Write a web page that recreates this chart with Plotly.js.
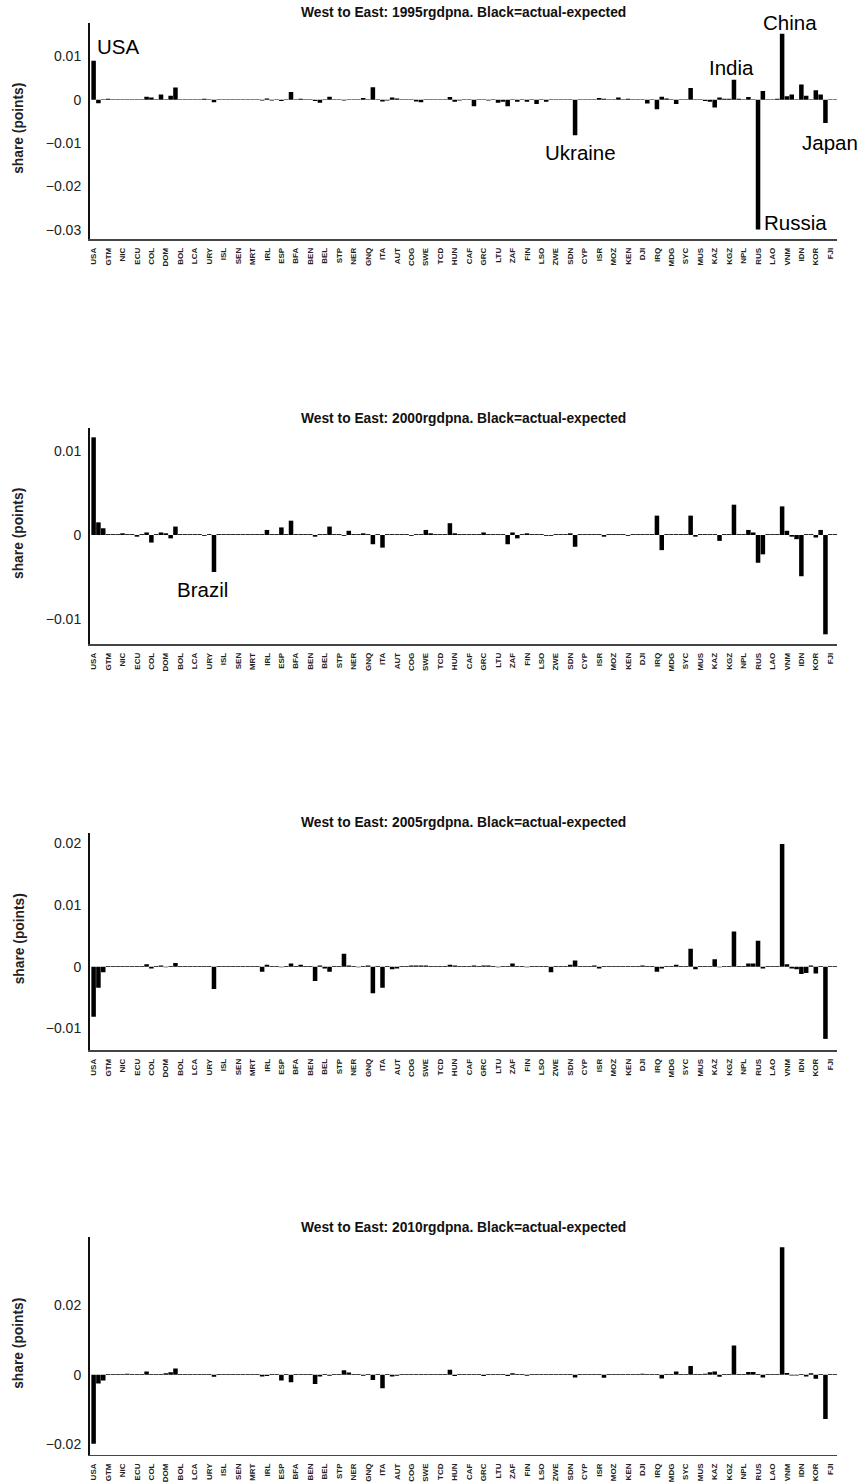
<!DOCTYPE html>
<html>
<head>
<meta charset="utf-8">
<script src="https://cdn.plot.ly/plotly-3.0.1.min.js"></script>
<style>html,body{margin:0;padding:0;background:#fff;}#chart{width:859px;height:1483px;}</style>
</head>
<body>
<div id="chart"></div>
<script>
// Tick labels: one label every third bar (West to East ordering)
var tickLabels = ["USA","GTM","NIC","ECU","COL","DOM","BOL","LCA","URY","ISL","SEN","MRT","IRL","ESP","BFA","BEN","BEL","STP","NER","GNQ","ITA","AUT","COG","SWE","TCD","HUN","CAF","GRC","LTU","ZAF","FIN","LSO","ZWE","SDN","CYP","ISR","MOZ","KEN","DJI","IRQ","MDG","SYC","MUS","KAZ","KGZ","NPL","RUS","LAO","VNM","IDN","KOR","FJI"];
var years = ["1995","2000","2005","2010"];

// actual - expected share, one value per country bar (3 bars per tick label group)
var v1995 = [
 0.0090,-0.0008,0.0001,
 0.0002,0.0001,0.0001,
 0.0001,0.0001,0.0001,
 0.0001,0.0001,0.0007,
 0.0005,0.0001,0.0012,
 0.0001,0.0009,0.0028,
 0.0001,0.0001,0.0001,
 0.0001,0.0001,0.0002,
 0.0001,-0.0006,0.0001,
 0.0001,0.0001,0.0001,
 0.0001,0.0001,0.0001,
 0.0001,0.0001,-0.0002,
 0.0003,-0.0002,0.0001,
 -0.0003,0.0001,0.0018,
 0.0001,0.0002,0.0001,
 0.0001,-0.0003,-0.0007,
 0.0001,0.0007,0.0001,
 0.0001,-0.0002,0.0001,
 0.0001,0.0001,0.0004,
 0.0001,0.0029,0.0001,
 -0.0004,-0.0002,0.0005,
 0.0003,0.0001,0.0001,
 0.0001,-0.0004,-0.0006,
 0.0001,0.0001,0.0001,
 0.0001,0.0001,0.0006,
 -0.0005,-0.0002,0.0001,
 0.0001,-0.0015,0.0001,
 0.0001,-0.0002,0.0001,
 -0.0007,-0.0005,-0.0015,
 0.0001,-0.0005,0.0001,
 -0.0005,0.0001,-0.0010,
 0.0001,-0.0005,0.0001,
 0.0001,0.0001,0.0001,
 0.0001,-0.0082,0.0001,
 0.0001,0.0001,0.0001,
 0.0004,0.0002,0.0001,
 0.0001,0.0005,0.0001,
 0.0002,0.0001,0.0001,
 0.0001,-0.0009,0.0001,
 -0.0022,0.0007,0.0003,
 0.0001,-0.0010,0.0001,
 0.0001,0.0027,0.0001,
 0.0001,-0.0003,-0.0005,
 -0.0018,0.0005,0.0002,
 0.0002,0.0046,0.0002,
 0.0001,0.0006,0.0001,
 -0.0300,0.0020,0.0001,
 0.0001,0.0002,0.0152,
 0.0008,0.0012,0.0001,
 0.0035,0.0009,0.0001,
 0.0022,0.0012,-0.0054,
 0.0001,0.0001
];
var v2000 = [
 0.0116,0.0015,0.0008,
 0.0001,0.0001,0.0001,
 0.0002,0.0001,0.0001,
 -0.0002,0.0001,0.0003,
 -0.0009,0.0001,0.0003,
 0.0002,-0.0004,0.0010,
 0.0001,0.0001,0.0001,
 0.0001,0.0001,-0.0001,
 0.0001,-0.0044,0.0001,
 0.0001,0.0001,0.0001,
 0.0001,0.0001,0.0001,
 0.0001,0.0001,0.0001,
 0.0006,0.0001,0.0001,
 0.0009,0.0001,0.0017,
 0.0001,0.0001,0.0001,
 0.0001,-0.0002,0.0001,
 0.0001,0.0010,0.0001,
 0.0001,-0.0001,0.0005,
 0.0001,0.0001,0.0002,
 0.0001,-0.0011,0.0001,
 -0.0015,0.0001,0.0001,
 0.0001,0.0001,0.0001,
 -0.0001,0.0001,0.0001,
 0.0006,0.0002,0.0001,
 0.0001,0.0001,0.0014,
 0.0002,0.0001,0.0001,
 0.0001,0.0001,0.0001,
 0.0003,0.0001,0.0001,
 0.0001,0.0001,-0.0011,
 0.0003,-0.0004,0.0001,
 0.0002,0.0001,0.0001,
 0.0001,-0.0001,-0.0001,
 0.0001,0.0001,0.0001,
 0.0002,-0.0014,0.0001,
 0.0001,0.0001,0.0001,
 0.0001,-0.0002,0.0001,
 0.0001,0.0001,0.0001,
 -0.0001,0.0001,0.0001,
 0.0001,0.0001,0.0001,
 0.0023,-0.0018,0.0001,
 0.0001,0.0001,0.0001,
 0.0001,0.0023,-0.0002,
 0.0001,0.0001,0.0001,
 0.0001,-0.0007,0.0001,
 0.0001,0.0036,0.0001,
 0.0001,0.0006,0.0003,
 -0.0033,-0.0023,0.0001,
 0.0001,0.0001,0.0034,
 0.0005,-0.0002,-0.0005,
 -0.0049,0.0001,0.0001,
 -0.0003,0.0006,-0.0118,
 0.0001,0.0001
];
var v2005 = [
 -0.0081,-0.0034,-0.0009,
 0.0001,0.0001,0.0001,
 0.0001,0.0001,0.0001,
 0.0001,0.0001,0.0004,
 -0.0003,0.0001,0.0002,
 -0.0001,0.0001,0.0006,
 0.0001,0.0001,0.0001,
 0.0001,0.0001,0.0001,
 0.0001,-0.0036,0.0001,
 0.0001,0.0001,0.0001,
 0.0001,0.0001,0.0001,
 0.0001,0.0001,-0.0008,
 0.0003,0.0001,0.0001,
 -0.0001,0.0001,0.0005,
 0.0001,0.0003,0.0001,
 0.0001,-0.0023,0.0002,
 -0.0003,-0.0008,0.0001,
 0.0001,0.0021,0.0002,
 0.0001,-0.0001,0.0001,
 0.0002,-0.0043,0.0001,
 -0.0034,0.0001,-0.0004,
 -0.0003,0.0001,0.0001,
 0.0002,0.0002,0.0002,
 0.0002,0.0001,0.0001,
 0.0001,0.0001,0.0003,
 0.0002,0.0001,0.0001,
 0.0001,0.0002,0.0001,
 0.0002,0.0002,0.0001,
 -0.0001,0.0001,0.0001,
 0.0005,0.0001,0.0001,
 -0.0001,0.0001,0.0001,
 0.0001,0.0001,-0.0009,
 0.0001,0.0001,0.0001,
 0.0003,0.0010,0.0001,
 0.0001,0.0001,0.0002,
 -0.0003,0.0001,0.0001,
 0.0001,0.0001,0.0001,
 0.0001,0.0001,0.0001,
 0.0002,0.0001,0.0001,
 -0.0008,-0.0003,0.0001,
 0.0001,0.0003,0.0001,
 0.0001,0.0029,-0.0004,
 0.0001,0.0001,0.0001,
 0.0012,-0.0001,0.0001,
 0.0001,0.0057,0.0001,
 0.0001,0.0005,0.0005,
 0.0042,-0.0003,0.0001,
 0.0001,0.0001,0.0199,
 0.0004,-0.0003,-0.0004,
 -0.0012,-0.0010,0.0002,
 -0.0011,0.0001,-0.0117,
 0.0001,0.0001
];
var v2010 = [
 -0.0198,-0.0025,-0.0017,
 0.0002,0.0002,0.0002,
 0.0002,0.0003,0.0002,
 0.0002,0.0002,0.0009,
 0.0002,0.0002,0.0002,
 0.0004,0.0007,0.0018,
 0.0002,0.0002,0.0002,
 0.0002,0.0002,0.0002,
 0.0002,-0.0006,0.0002,
 0.0002,0.0002,0.0002,
 0.0002,0.0002,0.0002,
 0.0002,0.0002,-0.0005,
 -0.0004,0.0002,0.0002,
 -0.0017,0.0002,-0.0022,
 0.0002,0.0002,0.0002,
 0.0002,-0.0027,-0.0005,
 0.0002,-0.0003,0.0002,
 0.0002,0.0013,0.0006,
 0.0002,0.0002,-0.0003,
 0.0002,-0.0015,0.0002,
 -0.0039,0.0002,-0.0005,
 -0.0003,0.0002,0.0002,
 0.0002,0.0002,0.0002,
 0.0002,0.0002,0.0002,
 0.0002,0.0002,0.0014,
 -0.0004,0.0002,0.0002,
 0.0002,0.0002,0.0002,
 -0.0004,0.0002,0.0002,
 0.0002,0.0002,-0.0004,
 0.0004,0.0002,0.0002,
 -0.0003,0.0002,0.0002,
 0.0002,0.0002,0.0002,
 0.0002,0.0002,0.0002,
 0.0002,-0.0008,0.0002,
 0.0002,0.0002,0.0002,
 0.0002,-0.0009,0.0002,
 0.0002,0.0002,0.0002,
 0.0002,0.0002,0.0002,
 0.0003,0.0002,0.0002,
 0.0002,-0.0011,0.0002,
 0.0002,0.0009,0.0002,
 0.0002,0.0025,0.0002,
 0.0002,0.0003,0.0007,
 0.0009,-0.0006,0.0002,
 0.0002,0.0084,0.0002,
 0.0002,0.0008,0.0008,
 0.0002,-0.0008,0.0002,
 0.0002,0.0002,0.0366,
 0.0005,-0.0002,-0.0002,
 0.0002,-0.0005,0.0004,
 -0.0012,0.0002,-0.0127,
 0.0002,0.0002
];
var series = [v1995, v2000, v2005, v2010];

// ---- layout geometry (pixels) ----
var W = 859, H = 1483;
var plotL = 90, plotR = 837;
var panels = [
  {top: 22.7, bottom: 239,  range: [-0.03217, 0.01778], dtick: 0.01},
  {top: 428,  bottom: 644,  range: [-0.01295, 0.01271], dtick: 0.01},
  {top: 832.7,bottom: 1050, range: [-0.0135, 0.02172], dtick: 0.01},
  {top: 1237, bottom: 1454.7, range: [-0.02297, 0.03953], dtick: 0.02}
];
function px(x){ return x / W; }
function py(y){ return 1 - y / H; }

var FONT = '"Liberation Sans", Arial, Helvetica, sans-serif';
var tickvals = tickLabels.map(function(_, i){ return i * 3; });

var data = [];
var layout = {
  width: W, height: H,
  margin: {l: 0, r: 0, t: 0, b: 0},
  paper_bgcolor: '#fff', plot_bgcolor: '#fff',
  showlegend: false,
  bargap: 0.06,
  font: {family: FONT, color: '#222'},
  annotations: []
};

series.forEach(function(vals, k){
  var xs = vals.map(function(_, i){ return i; });
  var sfx = k === 0 ? '' : String(k + 1);
  data.push({
    type: 'bar', x: xs, y: vals,
    xaxis: 'x' + sfx, yaxis: 'y' + sfx,
    marker: {color: '#000', line: {width: 0}},
    hoverinfo: 'y'
  });
  var p = panels[k];
  layout['xaxis' + sfx] = {
    domain: [px(plotL), px(plotR)],
    anchor: 'y' + sfx,
    range: [-0.75, 154.4],
    tickmode: 'array', tickvals: tickvals, ticktext: tickLabels,
    tickangle: -90, ticks: '', ticklabelstandoff: 4,
    tickfont: {family: FONT, size: 8, color: '#222', weight: 'bold'},
    showgrid: false, zeroline: false,
    showline: true, linecolor: '#444', linewidth: 1.6
  };
  layout['yaxis' + sfx] = {
    domain: [py(p.bottom), py(p.top)],
    anchor: 'x' + sfx,
    range: p.range, dtick: p.dtick, tick0: 0,
    ticks: '', ticklabelstandoff: 4,
    tickfont: {family: FONT, size: 14, color: '#222'},
    showgrid: false, zeroline: false,
    showline: true, linecolor: '#111', linewidth: 2
  };
  // panel title
  layout.annotations.push({
    xref: 'paper', yref: 'paper', x: px((plotL + plotR) / 2), y: py(p.top - 10),
    xanchor: 'center', yanchor: 'middle', showarrow: false,
    text: 'West to East: ' + years[k] + 'rgdpna. Black=actual-expected',
    font: {family: FONT, size: 13.8, color: '#111', weight: 'bold'}
  });
  // y axis title
  layout.annotations.push({
    xref: 'paper', yref: 'paper', x: px(19), y: py((p.top + p.bottom) / 2 - 2),
    xanchor: 'center', yanchor: 'middle', showarrow: false, textangle: -90,
    text: 'share (points)',
    font: {family: FONT, size: 13.8, color: '#222', weight: 'bold'}
  });
});

// country call-outs
var callouts = [
  {t: 'USA',     x: 95,  y: 46.5, a: 'left'},
  {t: 'China',   x: 790, y: 22,   a: 'center'},
  {t: 'India',   x: 731, y: 67.5, a: 'center'},
  {t: 'Ukraine', x: 580, y: 152.5,a: 'center'},
  {t: 'Japan',   x: 830, y: 143,  a: 'center'},
  {t: 'Russia',  x: 795, y: 222,  a: 'center'},
  {t: 'Brazil',  x: 202.5, y: 589.5, a: 'center'}
];
callouts.forEach(function(c){
  layout.annotations.push({
    xref: 'paper', yref: 'paper', x: px(c.x), y: py(c.y),
    xanchor: c.a, yanchor: 'middle', showarrow: false,
    text: c.t, font: {family: FONT, size: 20.5, color: '#000'}
  });
});

Plotly.newPlot('chart', data, layout, {staticPlot: true, displayModeBar: false});
</script>
</body>
</html>
